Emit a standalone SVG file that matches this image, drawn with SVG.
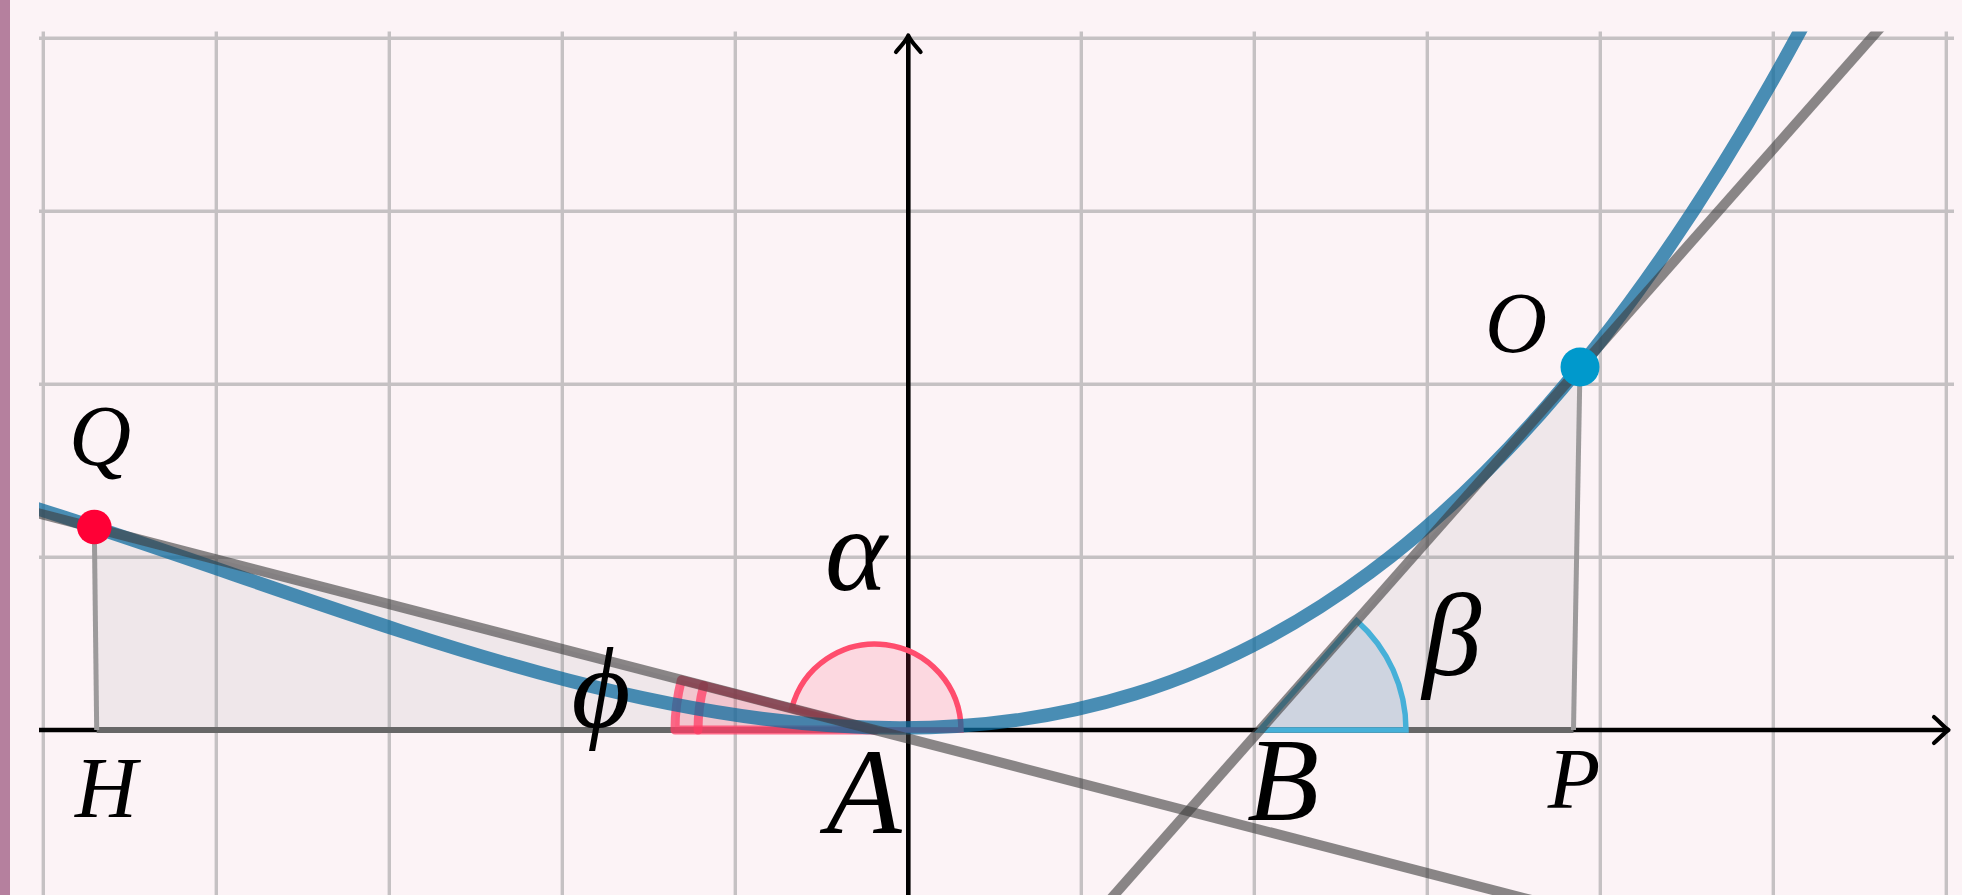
<svg xmlns="http://www.w3.org/2000/svg" width="1962" height="895" viewBox="0 0 1962 895">
<style>
.grid line{stroke:#c5c1c3;stroke-width:3.4}
.axis{stroke:#000;stroke-width:4.6;fill:none}
.arrow{stroke:#000;stroke-width:4.2;fill:none;stroke-linecap:round;stroke-linejoin:round}
.tri{fill:#808080;fill-opacity:0.1;stroke:none}
.base{stroke:#676767;stroke-width:6}
.leg{stroke:#9c9a9b;stroke-width:5}
.gline{stroke:#3c3c3c;stroke-opacity:0.6;stroke-width:10;fill:none}
.curve{stroke:#0e6b9e;stroke-opacity:0.75;stroke-width:13.5;fill:none}
.lbl{font-family:"Liberation Serif","DejaVu Serif",serif;font-style:italic;fill:#000;text-anchor:middle}
</style>
<defs>
<clipPath id="plot"><rect x="39" y="31.5" width="1923" height="870"/></clipPath>
</defs>
<rect x="0" y="0" width="1962" height="895" fill="#fcf3f6"/>
<rect x="0" y="0" width="10" height="895" fill="#b5809e"/>
<g id="grid" class="grid">
<line x1="43.3" y1="31.5" x2="43.3" y2="895"/>
<line x1="216.3" y1="31.5" x2="216.3" y2="895"/>
<line x1="389.3" y1="31.5" x2="389.3" y2="895"/>
<line x1="562.3" y1="31.5" x2="562.3" y2="895"/>
<line x1="735.3" y1="31.5" x2="735.3" y2="895"/>
<line x1="1081.3" y1="31.5" x2="1081.3" y2="895"/>
<line x1="1254.3" y1="31.5" x2="1254.3" y2="895"/>
<line x1="1427.3" y1="31.5" x2="1427.3" y2="895"/>
<line x1="1600.3" y1="31.5" x2="1600.3" y2="895"/>
<line x1="1773.3" y1="31.5" x2="1773.3" y2="895"/>
<line x1="1946.3" y1="31.5" x2="1946.3" y2="895"/>
<line x1="39" y1="38.3" x2="1954" y2="38.3"/>
<line x1="39" y1="211.3" x2="1954" y2="211.3"/>
<line x1="39" y1="384.3" x2="1954" y2="384.3"/>
<line x1="39" y1="557.3" x2="1954" y2="557.3"/>
</g>
<g id="triangle-QHA">
<polygon class="tri" points="94.3,527 96.7,730 875,730"/>
</g>
<g id="triangle-OPB">
<polygon class="tri" points="1580,367 1573.5,730 1260,730"/>
</g>
<g id="axes">
<line class="axis" x1="39" y1="730" x2="1947" y2="730"/>
<line class="axis" x1="908.3" y1="37" x2="908.3" y2="895"/>
<path class="arrow" d="M896,52 C901,46 906,41 908.3,35.5 C910.6,41 915.6,46 920.6,52"/>
<path class="arrow" d="M1934,717 C1940,722 1944,727 1948.5,730 C1944,733 1940,738 1934,743"/>
</g>
<g id="triangle-sides">
<line class="base" x1="96.7" y1="730" x2="875" y2="730"/>
<line class="leg" x1="94.3" y1="527" x2="96.7" y2="730"/>
<line class="base" x1="1260" y1="730" x2="1573.5" y2="730"/>
<line class="leg" x1="1580" y1="367" x2="1573.5" y2="730"/>
</g>
<g id="angle-phi">
<path d="M875,730 L675,730 A200,200 0 0,1 681.39,679.86 Z" fill="#ff4d6d" fill-opacity="0.22" stroke="#ff3c64" stroke-opacity="0.75" stroke-width="9" stroke-linejoin="round"/>
<path d="M698,730 A177,177 0 0,1 703.65,685.63" fill="none" stroke="#ff3c64" stroke-opacity="0.75" stroke-width="9" stroke-linecap="round"/>
</g>
<g id="angle-alpha">
<path d="M875,730 L961,730 A86,86 0 0,0 791.75,708.4 Z" fill="#ff4d6d" fill-opacity="0.16" stroke="#ff4d6d" stroke-width="5.5"/>
</g>
<g id="angle-beta">
<path d="M1260,730 L1406,730 A146,146 0 0,0 1356.6,620.6 Z" fill="#146eaa" fill-opacity="0.15" stroke="#46b0d8" stroke-width="5.5"/>
</g>
<g id="curve" clip-path="url(#plot)">
<path class="curve" d="M25,504.82 C316.67,595.54 608.33,728 900,728 C1213.33,728 1526.67,570.8 1840,-45.08"/>
</g>
<g id="connectors" clip-path="url(#plot)">
<line class="gline" x1="30" y1="511.2" x2="1540" y2="902.2"/>
<line class="gline" x1="1106" y1="904.3" x2="1890" y2="17"/>
</g>
<g id="node-Q">
<circle cx="94.3" cy="527" r="17.3" fill="#ff0036"/>
<text class="lbl" x="100" y="465" font-size="86">Q</text>
</g>
<g id="node-H">
<text class="lbl" x="106" y="817" font-size="86">H</text>
</g>
<g id="node-A">
<text class="lbl" x="864" y="833" font-size="123">A</text>
</g>
<g id="node-B">
<text class="lbl" x="1283" y="820" font-size="118">B</text>
</g>
<g id="node-P">
<text class="lbl" x="1574" y="808" font-size="86">P</text>
</g>
<g id="node-O">
<circle cx="1580" cy="367" r="19.5" fill="#0099cc"/>
<text class="lbl" x="1516" y="352" font-size="86">O</text>
</g>
<g id="label-alpha">
<text class="lbl" x="856" y="590" font-size="118">α</text>
</g>
<g id="label-beta">
<text class="lbl" x="1452" y="675" font-size="118">β</text>
</g>
<g id="label-phi">
<text class="lbl" x="601" y="727" font-size="114">ϕ</text>
</g>
</svg>
